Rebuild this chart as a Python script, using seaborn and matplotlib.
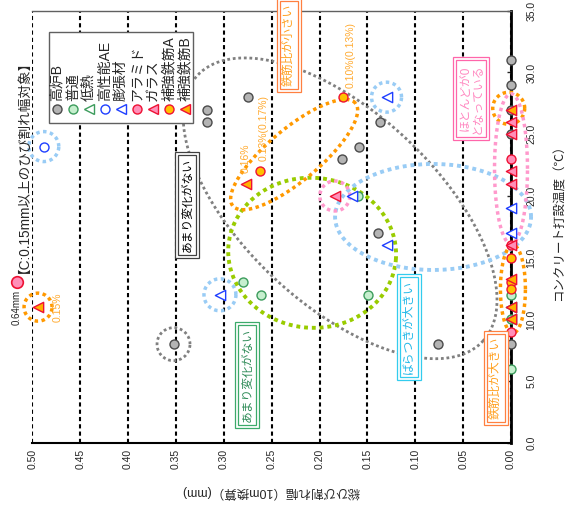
import numpy as np
import pandas as pd
import matplotlib.pyplot as plt
import seaborn as sns
from matplotlib.patches import Rectangle
from matplotlib.lines import Line2D
import matplotlib.transforms as mtransforms

# --- DATA: total crack width (mm, per 10 m) vs placing temperature (C) ---
kouro_w = [0.275, 0.318, 0.318, 0.159, 0.177, 0.137, 0.1385, 0.3525, 0.076, 0.0, 0.0, 0.0, 0.0, 0.0]
kouro_t = [28, 27, 26, 24, 23, 26, 17, 8, 8, 31, 29, 27, 25, 8]
futsu_w = [0.280, 0.261, 0.149, 0.160, 0.0, 0.0, 0.0]
futsu_t = [13, 12, 12, 20, 12, 10, 6]
teinetsu_w = [0.0, 0.0]
teinetsu_t = [11, 10]
ae_w = [0.488]
ae_t = [24]
bocho_w = [0.130, 0.166, 0.130, 0.304, 0.0, 0.0]
bocho_t = [28, 20, 16, 12, 19, 17]
aramid_w = [0.0, 0.0, 0.0]
aramid_t = [23, 16, 9]
glass_w = [0.184, 0.0, 0.0, 0.0, 0.0, 0.0]
glass_t = [20, 26, 25, 22, 21, 16]
tekkinA_w = [0.175, 0.262, 0.0, 0.0, 0.0]
tekkinA_t = [28, 22, 15, 13.0, 12.5]
tekkinB_w = [0.277, 0.494, 0.0, 0.0, 0.0, 0.0]
tekkinB_t = [21, 11, 27, 13.3, 11, 10]

# aramid point out of range (0.64 mm)
out_w = 0.64
out_t = 13

series_names = ['高炉B', '普通', '低熱', '高性能AE', '膨張材', 'アラミド', 'ガラス', '補強鉄筋A', '補強鉄筋B']
series_w = [kouro_w, futsu_w, teinetsu_w, ae_w, bocho_w, aramid_w, glass_w, tekkinA_w, tekkinB_w]
series_t = [kouro_t, futsu_t, teinetsu_t, ae_t, bocho_t, aramid_t, glass_t, tekkinA_t, tekkinB_t]

# marker, face, edge
styles = {
    '高炉B': ('o', '#b4b4b4', '#4a4a4a'),
    '普通': ('o', '#c6efce', '#3c9c5c'),
    '低熱': ('<', 'white', '#3c9c5c'),
    '高性能AE': ('o', 'white', '#1f3fff'),
    '膨張材': ('<', 'white', '#1f3fff'),
    'アラミド': ('o', '#ff8fb8', '#ee1133'),
    'ガラス': ('<', '#ff8fb8', '#ee1133'),
    '補強鉄筋A': ('o', '#ffc000', '#ee1133'),
    '補強鉄筋B': ('<', '#ffb000', '#ee1133'),
}

W, H = 568, 508
sns.set_style('white')
plt.rcParams['font.family'] = ['Liberation Sans', 'Noto Sans CJK JP', 'DejaVu Sans']

fig = plt.figure(figsize=(W / 100, H / 100), dpi=100)
ax = fig.add_axes([32.3 / W, (H - 443) / H, (511 - 32.3) / W, (443 - 10.7) / H])
ax.set_xlim(0.5, 0.0)
ax.set_ylim(0, 35)


def fx(x):
    return x / W


def fy(y):
    return 1 - y / H


# --- markers ---
for name, ws, ts in zip(series_names, series_w, series_t):
    mk, fc, ec = styles[name]
    df = pd.DataFrame({'w': ws, 't': ts})
    sns.scatterplot(data=df, x='w', y='t', ax=ax, marker=mk, color=fc, edgecolor=ec,
                    linewidth=1.0, s=55 if mk == '<' else 42, zorder=4, clip_on=False, legend=False)


# --- dotted rings (centre in data, radii in pixels) ---
def ring(cx, cy, a, b, ang, color, lw=2.5):
    cxp, cyp = ax.transData.transform((cx, cy))
    t = np.linspace(0, 2 * np.pi, 300)
    r = np.deg2rad(ang)
    px = cxp + a * np.cos(t) * np.cos(r) - b * np.sin(t) * np.sin(r)
    py = cyp + a * np.cos(t) * np.sin(r) + b * np.sin(t) * np.cos(r)
    pts = ax.transData.inverted().transform(np.column_stack([px, py]))
    ax.plot(pts[:, 0], pts[:, 1], ls=(0, (1, 1)), lw=lw, color=color, clip_on=False, zorder=3)


ring(0.1785, 19.0, 195, 96, -43, '#808080', 2.0)
ring(0.2077, 15.4, 84, 75, -5, '#99cc00', 2.8)
ring(0.2265, 23.35, 80, 26, 40, '#ff9900', 2.5)
ring(0.0814, 18.3, 98, 53, 0, '#99ccf5', 2.8)
ring(0.488, 24, 15, 15, 0, '#99ccf5', 2.5)
ring(0.130, 28, 15, 15, 0, '#99ccf5', 2.5)
ring(0.304, 12, 16, 16, 0, '#99ccf5', 2.5)
ring(0.3525, 8, 16.5, 16.5, 0, '#808080', 2.0)
ring(0.184, 20, 15, 15, 0, '#ff99cc', 2.5)
ring(0.494, 11, 14, 14, 0, '#ff9900', 2.5)
ring(0.0024, 27.1, 16, 16, 0, '#ff9900', 2.5)
ring(-0.002, 12.46, 12.5, 44, 0, '#ff9900', 2.5)
ring(0.0, 22.2, 16.5, 75, 0, '#ff99cc', 2.5)


# --- framed notes ---
def note(w, t, s, tc, ec, fs=8.5):
    ax.text(w, t, s, rotation=90, ha='center', va='center', color=tc, fontsize=fs, zorder=6,
            linespacing=1.1, bbox=dict(boxstyle='square,pad=0.25', fc='white', ec=ec, lw=0.9))
    ax.text(w, t, s, rotation=90, ha='center', va='center', color='none', fontsize=fs, zorder=5,
            linespacing=1.1, bbox=dict(boxstyle='square,pad=0.5', fc='white', ec=ec, lw=0.9))


note(0.338, 19.26, 'あまり変化がない', 'black', '#404040')
note(0.2317, 32.2, '鉄筋比が小さい', '#ffa020', '#ff8040')
note(0.0418, 27.9, 'ほとんどが0\nとなっている', '#ff88c0', '#ff66aa')
note(0.1065, 9.4, 'ばらつきが大きい', '#22b8e8', '#33ccee')
note(0.2756, 5.5, 'あまり変化がない', '#2e8b57', '#3caa6a')
note(0.0157, 5.26, '鉄筋比が大きい', '#ffa020', '#ff8040')

# reinforcement ratio labels
for w, t, s in [(0.2777, 23.06, '0.16%'), (0.2589, 25.5, '0.13%(0.17%)'),
                (0.168, 31.4, '0.10%(0.13%)'), (0.474, 11.0, '0.15%')]:
    ax.text(w, t, s, rotation=90, ha='center', va='center', color='#ffaa30', fontsize=7.5, zorder=5)

# --- axes styling ---
xt = np.round(np.arange(0, 0.51, 0.05), 2)
ax.set_xticks(xt)
ax.set_xticklabels([f'{v:.2f}' for v in xt], rotation=90, fontsize=7.5)
ax.set_yticks(np.arange(0, 36, 5))
ax.set_yticklabels([f'{v:.1f}' for v in np.arange(0, 36, 5)], rotation=90, fontsize=7.5, va='center')
ax.yaxis.tick_right()
ax.tick_params(axis='y', direction='in', length=3, width=1, pad=11, right=True, left=False)
ax.tick_params(axis='x', length=0, pad=4)
ax.grid(axis='x', ls=(0, (2, 1.5)), color='black', lw=1.5)
ax.grid(axis='y', visible=False)
ax.spines['left'].set_visible(False)
ax.spines['top'].set_color('#606060')
ax.spines['top'].set_linewidth(1.0)
ax.spines['right'].set_color('black')
ax.spines['right'].set_linewidth(2.0)
ax.spines['bottom'].set_color('black')
ax.spines['bottom'].set_linewidth(1.5)
ax.set_xlabel('')
ax.set_ylabel('')

fig.text(fx(271), fy(492), '総ひび割れ幅（10m換算）(mm)', rotation=180, ha='center', va='center', fontsize=9)
fig.text(fx(560), fy(220), 'コンクリート打設温度（℃）', rotation=90, ha='center', va='center', fontsize=9)

# --- out-of-range point and heading ---
bt = mtransforms.blended_transform_factory(ax.transAxes, ax.transData)
ax.scatter([-0.032], [out_t], transform=bt, s=70, marker='o', color='#ff8fb8', edgecolor='#ee1133',
           linewidth=1.2, clip_on=False, zorder=6)
ax.text(-0.032, out_t - 0.6, f'{out_w:.2f}mm', transform=bt, rotation=90, ha='center', va='top',
        fontsize=7, clip_on=False)
ax.text(-0.032, out_t + 0.8, '【C:0.15mm以上のひび割れ幅対象】', transform=bt, rotation=90, ha='center',
        va='bottom', fontsize=9.8, clip_on=False)

# --- legend drawn vertically ---
fig.add_artist(Rectangle((fx(49), fy(123)), 144 / W, 91 / H, transform=fig.transFigure,
                         fc='white', ec='#606060', lw=1, zorder=10))
for i, name in enumerate(series_names):
    mk, fc, ec = styles[name]
    x = 56.5 + 16.1 * i
    fig.add_artist(Line2D([fx(x)], [fy(109)], marker=mk, markersize=7.5 if mk == '<' else 6.5,
                          markerfacecolor=fc, markeredgecolor=ec, markeredgewidth=1.0,
                          transform=fig.transFigure, zorder=11))
    fig.text(fx(x), fy(101), name, rotation=90, ha='center', va='bottom', fontsize=10, zorder=11)

fig.savefig('out.png', dpi=100)
